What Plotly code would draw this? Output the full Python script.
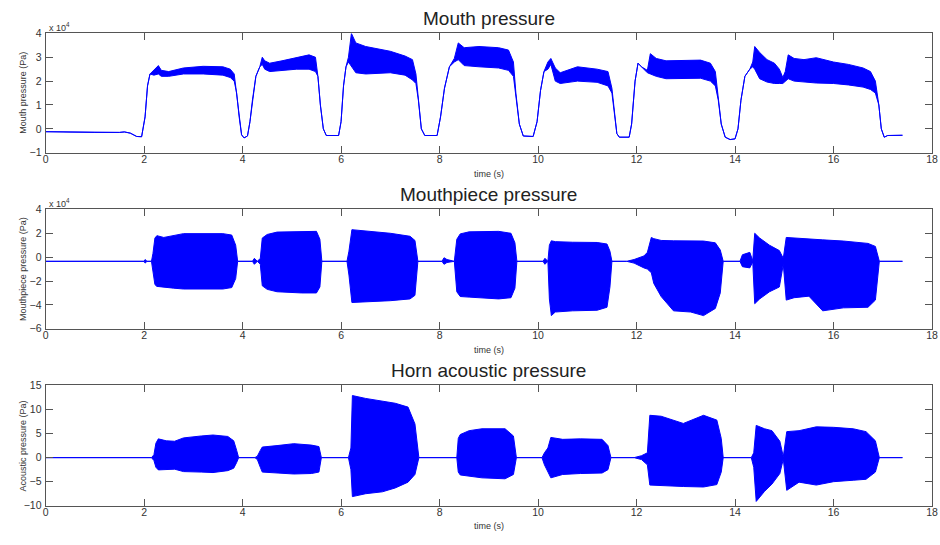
import plotly.graph_objects as go

# ---- Mouth pressure envelope (units of 1e4 Pa) ----
mouth_t = [0.0, 1.0, 1.5, 1.6, 1.72, 1.85, 1.95, 2.02, 2.07, 2.12, 2.2, 2.29, 2.35, 2.5, 2.8, 3.2, 3.6, 3.75, 3.83,
           3.88, 3.93, 3.98, 4.03, 4.1, 4.15, 4.2, 4.27, 4.35, 4.4, 4.45, 4.55, 4.8, 5.1, 5.35, 5.48, 5.53, 5.58,
           5.64, 5.7, 5.95, 6.0, 6.05, 6.1, 6.15, 6.21, 6.3, 6.5, 7.0, 7.3, 7.45, 7.52, 7.57, 7.63, 7.7, 7.95,
           8.02, 8.1, 8.2, 8.3, 8.38, 8.5, 8.8, 9.2, 9.4, 9.5, 9.55, 9.62, 9.7, 9.9, 9.98, 10.05, 10.12, 10.2,
           10.26, 10.35, 10.45, 10.8, 11.2, 11.42, 11.5, 11.55, 11.6, 11.65, 11.85, 11.9, 11.97, 12.03, 12.1,
           12.22, 12.28, 12.4, 12.6, 13.3, 13.5, 13.6, 13.66, 13.72, 13.8, 13.9, 14.0, 14.06, 14.12, 14.2, 14.3,
           14.36, 14.4, 14.5, 14.65, 14.8, 14.9, 14.97, 15.02, 15.08, 15.2, 15.4, 15.65, 16.0, 16.3, 16.6, 16.75,
           16.85, 16.92, 16.97, 17.03, 17.1, 17.4]
mouth_hi = [-0.12, -0.15, -0.15, -0.13, -0.18, -0.32, -0.33, 0.5, 1.8, 2.3, 2.45, 2.65, 2.45, 2.4, 2.55, 2.62, 2.6,
            2.5, 2.3, 1.5, 0.5, -0.25, -0.38, -0.3, 0.3, 1.2, 2.2, 2.6, 3.0, 2.85, 2.75, 2.85, 3.0, 3.1, 3.0, 2.2,
            1.0, 0.0, -0.28, -0.28, 0.3, 1.8, 2.6, 3.0, 4.0, 3.6, 3.45, 3.25, 3.05, 2.9, 2.3, 1.2, 0.0, -0.28,
            -0.28, 0.5, 1.7, 2.6, 2.95, 3.6, 3.4, 3.45, 3.4, 3.3, 2.8, 1.5, 0.2, -0.3, -0.32, 0.3, 1.6, 2.4, 2.8,
            2.95, 2.55, 2.35, 2.6, 2.5, 2.4, 1.7, 0.8, -0.2, -0.35, -0.35, 0.2, 2.0, 2.75, 2.6, 2.45, 3.15, 2.95,
            2.85, 2.88, 2.75, 2.4, 1.2, 0.2, -0.35, -0.45, -0.42, 0.0, 1.2, 2.2, 2.5, 2.8, 3.45, 3.2, 2.9, 2.75,
            2.5, 2.15, 2.4, 3.1, 2.95, 2.9, 2.98, 2.8, 2.7, 2.55, 2.4, 2.0, 1.0, 0.0, -0.35, -0.28, -0.27]
mouth_lo = [-0.12, -0.15, -0.15, -0.13, -0.18, -0.32, -0.33, 0.5, 1.8, 2.3, 2.25, 2.3, 2.2, 2.2, 2.3, 2.3, 2.25,
            2.15, 2.0, 1.5, 0.5, -0.25, -0.38, -0.3, 0.3, 1.2, 2.2, 2.6, 2.7, 2.5, 2.4, 2.45, 2.5, 2.5, 2.4, 2.2,
            1.0, 0.0, -0.28, -0.28, 0.3, 1.8, 2.6, 2.8, 2.6, 2.35, 2.3, 2.35, 2.25, 2.05, 1.9, 1.2, 0.0, -0.28,
            -0.28, 0.5, 1.7, 2.6, 2.8, 2.9, 2.65, 2.6, 2.55, 2.45, 2.2, 1.5, 0.2, -0.3, -0.32, 0.3, 1.6, 2.4, 2.5,
            2.7, 2.0, 1.9, 2.0, 1.95, 1.8, 1.5, 0.8, -0.2, -0.35, -0.35, 0.2, 2.0, 2.75, 2.6, 2.35, 2.3, 2.2,
            2.1, 2.12, 2.0, 1.8, 1.2, 0.2, -0.35, -0.45, -0.42, 0.0, 1.2, 2.2, 2.5, 2.6, 2.5, 2.1, 1.96, 1.9,
            1.9, 1.9, 2.0, 2.1, 2.0, 1.96, 1.92, 1.9, 1.84, 1.75, 1.65, 1.5, 1.0, 0.0, -0.35, -0.28, -0.27]

# ---- Mouthpiece pressure envelope (units of 1e4 Pa) ----
piece_t = [0.0, 2.0, 2.02, 2.06, 2.15, 2.18, 2.22, 2.26, 2.4, 2.6, 2.8, 3.6, 3.78, 3.86, 3.9, 4.2, 4.24, 4.3,
           4.36, 4.4, 4.5, 4.7, 5.2, 5.5, 5.57, 5.61, 6.12, 6.16, 6.22, 6.5, 7.0, 7.4, 7.5, 7.56, 8.05, 8.09,
           8.15, 8.3, 8.35, 8.42, 8.6, 9.2, 9.45, 9.53, 9.57, 10.1, 10.14, 10.2, 10.23, 10.27, 10.35, 10.7,
           11.2, 11.4, 11.46, 11.5, 11.8, 11.95, 12.15, 12.22, 12.3, 12.35, 12.5, 12.75, 13.1, 13.36, 13.6,
           13.7, 13.76, 14.1, 14.15, 14.3, 14.36, 14.4, 14.5, 14.7, 14.9, 14.98, 15.04, 15.2, 15.5, 15.78,
           16.2, 16.7, 16.85, 16.93, 17.4]
piece_hi = [-0.35, -0.35, -0.2, -0.35, -0.35, 0.3, 1.6, 1.8, 1.65, 1.8, 1.97, 1.97, 1.85, 1.0, -0.35, -0.35,
            -0.1, -0.35, -0.1, 1.6, 1.9, 2.1, 2.16, 2.16, 1.5, -0.35, -0.35, 0.5, 2.3, 2.2, 2.0, 1.75, 1.4,
            -0.35, -0.35, -0.05, -0.2, -0.35, 1.5, 1.95, 2.12, 2.16, 2.0, 1.2, -0.35, -0.35, -0.1, -0.35, 1.0,
            1.37, 1.3, 1.25, 1.23, 1.1, 0.5, -0.35, -0.35, -0.2, 0.1, 0.4, 1.65, 1.55, 1.4, 1.37, 1.37, 1.35,
            1.2, 0.6, -0.35, -0.35, 0.2, 0.4, -0.3, 2.0, 1.6, 1.0, 0.55, -0.1, 1.65, 1.6, 1.5, 1.45, 1.35,
            1.15, 0.9, -0.35, -0.35]
piece_lo = [-0.35, -0.35, -0.5, -0.35, -0.35, -1.0, -2.3, -2.45, -2.5, -2.6, -2.67, -2.67, -2.55, -1.8, -0.35,
            -0.35, -0.6, -0.35, -0.6, -2.4, -2.7, -2.9, -3.0, -3.0, -2.5, -0.35, -0.35, -1.5, -3.8, -3.75,
            -3.65, -3.5, -3.2, -0.35, -0.35, -0.6, -0.45, -0.35, -2.9, -3.3, -3.35, -3.5, -3.4, -2.6, -0.35,
            -0.35, -0.6, -0.35, -3.5, -4.9, -4.6, -4.5, -4.45, -4.2, -2.5, -0.35, -0.35, -0.5, -0.9, -1.0,
            -1.3, -2.2, -3.3, -4.5, -4.6, -4.9, -4.3, -3.0, -0.35, -0.35, -0.8, -0.9, -0.4, -3.9, -3.5, -2.9,
            -2.5, -0.6, -3.6, -3.4, -3.27, -4.5, -4.25, -4.2, -3.6, -0.35, -0.35]

# ---- Horn acoustic pressure envelope (Pa) ----
horn_t = [0.0, 2.15, 2.2, 2.24, 2.29, 2.45, 2.62, 2.8, 3.16, 3.4, 3.7, 3.82, 3.88, 3.92, 4.25, 4.3, 4.36, 4.4,
          4.7, 5.04, 5.4, 5.55, 5.6, 6.15, 6.2, 6.23, 6.5, 6.84, 7.1, 7.36, 7.5, 7.58, 8.35, 8.38, 8.42, 8.6,
          8.86, 9.33, 9.5, 9.56, 10.08, 10.13, 10.2, 10.26, 10.5, 10.86, 11.3, 11.42, 11.48, 11.95, 12.1,
          12.22, 12.27, 12.5, 12.95, 13.36, 13.63, 13.72, 13.76, 14.33, 14.38, 14.43, 14.6, 14.75, 14.91,
          14.98, 15.05, 15.3, 15.65, 16.0, 16.4, 16.66, 16.85, 16.93, 17.4]
horn_hi = [0.0, 0.0, 0.6, 3.0, 3.9, 3.5, 3.4, 4.1, 4.5, 4.7, 4.4, 3.5, 1.5, 0.0, 0.0, 0.3, 1.5, 2.2, 2.5, 2.9,
           2.6, 2.3, 0.0, 0.0, 2.0, 12.9, 12.3, 11.8, 11.3, 10.5, 7.0, 0.0, 0.0, 4.0, 4.8, 5.6, 6.0, 6.0, 4.5,
           0.0, 0.0, 1.0, 2.0, 4.2, 3.8, 3.9, 3.8, 2.5, 0.0, 0.0, 0.4, 1.0, 8.8, 8.6, 7.1, 8.8, 7.8, 4.0, 0.0,
           0.0, 1.0, 6.7, 6.0, 5.6, 3.4, 0.2, 5.4, 5.6, 6.4, 6.3, 6.0, 5.4, 3.5, 0.0, 0.0]
horn_lo = [0.0, 0.0, -0.6, -2.0, -2.55, -2.4, -2.4, -2.9, -3.0, -3.1, -2.7, -2.2, -1.0, 0.0, 0.0, -0.4, -2.0,
           -3.0, -3.2, -3.4, -3.3, -3.0, 0.0, 0.0, -2.5, -8.1, -7.5, -7.1, -6.3, -5.1, -3.5, 0.0, 0.0, -3.0,
           -3.6, -3.9, -4.2, -4.4, -3.5, 0.0, 0.0, -1.5, -3.0, -4.2, -3.5, -3.3, -3.2, -2.5, 0.0, 0.0, -0.4,
           -1.5, -5.7, -5.9, -6.0, -6.1, -5.6, -3.0, 0.0, 0.0, -2.0, -9.1, -7.0, -5.5, -3.3, -0.3, -6.8, -5.1,
           -5.7, -5.0, -4.7, -4.5, -3.0, 0.0, 0.0]

x_ticks = [0, 2, 4, 6, 8, 10, 12, 14, 16, 18]
mouth_yticks = [-1, 0, 1, 2, 3, 4]
piece_yticks = [-6, -4, -2, 0, 2, 4]
horn_yticks = [-10, -5, 0, 5, 10, 15]

BLUE = "#0000ff"
FONT = "Liberation Sans, Arial, sans-serif"
W, H = 940, 545


def band(t, hi, lo, xa, ya):
    # Closed polygon: upper envelope forward, lower envelope back
    return go.Scatter(
        x=list(t) + list(t)[::-1],
        y=list(hi) + list(lo)[::-1],
        xaxis=xa, yaxis=ya, mode="lines", fill="toself",
        fillcolor=BLUE, line=dict(color=BLUE, width=1),
        hoverinfo="skip", showlegend=False,
    )


fig = go.Figure()
fig.add_trace(band(mouth_t, mouth_hi, mouth_lo, "x", "y"))
fig.add_trace(band(piece_t, piece_hi, piece_lo, "x2", "y2"))
fig.add_trace(band(horn_t, horn_hi, horn_lo, "x3", "y3"))

# panel boxes in pixels: (top, bottom)
panels = [(28, 150), (208, 330), (388, 511)]
x0_px, x1_px = 43, 938
xdom = [x0_px / W, x1_px / W]

axis_common = dict(
    showline=True, linecolor="#555", linewidth=1, mirror="ticks",
    ticks="inside", ticklen=7, tickcolor="#555", tickwidth=1,
    showgrid=False, zeroline=False,
    tickfont=dict(family=FONT, size=10.5, color="#333"),
)

yranges = [(-1, 4), (-6, 4), (-10, 15)]
yticks = [mouth_yticks, piece_yticks, horn_yticks]
layout = {}
for i, ((top, bot), yr, yt) in enumerate(zip(panels, yranges, yticks)):
    sfx = "" if i == 0 else str(i + 1)
    layout["xaxis" + sfx] = dict(
        axis_common, domain=xdom, range=[0, 18], tickvals=x_ticks,
        anchor="y" + sfx, ticklabelstandoff=-3, ticklabeloverflow="allow",
    )
    layout["yaxis" + sfx] = dict(
        axis_common, domain=[1 - bot / H, 1 - top / H], range=list(yr),
        tickvals=yt, anchor="x" + sfx, ticklabelstandoff=1,
    )

titles = ["Mouth pressure", "Mouthpiece pressure", "Horn acoustic pressure"]
ylabels = ["Mouth pressure (Pa)", "Mouthpiece pressure (Pa)", "Acoustic pressure (Pa)"]
title_y = [13, 193, 373]
xlabel_y = [172, 352, 532]

ann = []
for i, (top, bot) in enumerate(panels):
    ann.append(dict(text=titles[i], x=(x0_px + x1_px) / 2 / W, y=1 - title_y[i] / H,
                    xref="paper", yref="paper", showarrow=False, xanchor="center", yanchor="middle",
                    font=dict(family=FONT, size=19, color="#222")))
    ann.append(dict(text="time (s)", x=(x0_px + x1_px) / 2 / W, y=1 - xlabel_y[i] / H,
                    xref="paper", yref="paper", showarrow=False, xanchor="center", yanchor="middle",
                    font=dict(family=FONT, size=9, color="#333")))
    ann.append(dict(text=ylabels[i], x=20 / W, y=1 - (top + bot) / 2 / H, textangle=-90,
                    xref="paper", yref="paper", showarrow=False, xanchor="center", yanchor="middle",
                    font=dict(family=FONT, size=9, color="#333")))
    if i < 2:
        ann.append(dict(text="x 10<sup>4</sup>", x=44 / W, y=1 - (top - 7) / H,
                        xref="paper", yref="paper", showarrow=False, xanchor="left", yanchor="middle",
                        font=dict(family=FONT, size=9, color="#333")))

fig.update_layout(
    width=W, height=H, margin=dict(l=0, r=0, t=0, b=0),
    paper_bgcolor="white", plot_bgcolor="white",
    annotations=ann, showlegend=False, **layout,
)

fig.write_html("out.html")
